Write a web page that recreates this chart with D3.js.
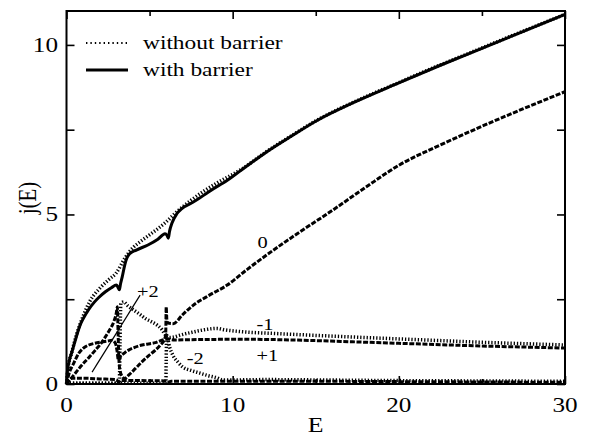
<!DOCTYPE html>
<html>
<head>
<meta charset="utf-8">
<script src="https://cdn.jsdelivr.net/npm/d3@7"></script>
<style>
  html, body { margin: 0; padding: 0; background: #fff; }
  svg { display: block; }
</style>
</head>
<body>
<svg id="chart" width="595" height="438"></svg>
<script>
// axis ticks
const xMajorTicks = [0, 10, 20, 30];
const xMinorTicks = [5, 15, 25];
const yMajorTicks = [0, 5, 10];
const yMinorTicks = [2.5, 7.5];

// total current, [E, j]
const totalWithBarrier = [[0,0],[0.05,0.35],[0.15,0.65],[0.33,0.95],[0.53,1.29],[0.83,1.75],[1.0,1.92],[1.34,2.2],[1.65,2.4],[1.94,2.55],[2.34,2.72],[2.7,2.84],[3.0,2.92],[3.1,2.85],[3.18,2.78],[3.25,2.95],[3.35,3.15],[3.5,3.5],[3.62,3.7],[3.8,3.84],[4.2,3.95],[4.9,4.1],[5.5,4.27],[5.93,4.43],[6.05,4.38],[6.13,4.3],[6.2,4.5],[6.35,4.75],[6.64,5.02],[6.94,5.17],[7.5,5.33],[7.94,5.46],[8.5,5.65],[9.15,5.85],[9.4,5.92],[10.55,6.32],[12,6.83],[13.5,7.3],[15,7.75],[17.5,8.35],[20,8.88],[22.5,9.4],[25,9.9],[27.5,10.4],[30,10.9]];
const totalWithoutBarrier = [[0,0],[0.1,0.5],[0.3,0.9],[0.6,1.45],[1.0,2.0],[1.42,2.45],[2.0,2.82],[2.5,3.06],[3.0,3.28],[3.5,3.7],[4.0,4.02],[4.5,4.22],[5.0,4.4],[5.93,4.75],[6.64,5.08],[7.5,5.42],[8.3,5.7],[9.13,5.95],[10.55,6.34],[12,6.84],[13.5,7.31],[15,7.76],[17.5,8.36],[20,8.89],[22.5,9.41],[25,9.91],[27.5,10.41],[30,10.9]];

// channel currents with barrier (dashed)
const ch0With = [[0,0],[0.17,0.1],[0.55,0.33],[0.93,0.56],[1.35,0.78],[1.74,1.0],[2.05,1.18],[2.34,1.39],[2.6,1.6],[2.84,1.83],[3.0,2.1],[3.06,2.28],[3.1,1.6],[3.14,0.9],[3.2,0.45],[3.35,0.22],[3.5,0.16],[3.74,0.26],[4.15,0.46],[4.55,0.66],[4.95,0.84],[5.35,1.0],[5.65,1.15],[5.88,1.3],[5.97,1.45],[6.0,2.27],[6.04,1.9],[6.1,1.8],[6.42,1.78],[7.0,2.05],[7.62,2.32],[8.6,2.62],[9.65,2.91],[10.8,3.35],[12,3.79],[14,4.47],[16,5.12],[18,5.8],[20,6.45],[22.5,7.05],[25,7.6],[27.5,8.12],[30,8.62]];
const ch1With = [[0,0],[0.15,0.3],[0.43,0.61],[0.73,0.9],[1.0,1.05],[1.34,1.15],[1.7,1.2],[2.14,1.24],[2.5,1.27],[2.74,1.29],[2.94,1.2],[3.05,0.95],[3.12,0.7],[3.24,0.8],[3.5,0.92],[3.74,1.0],[4.1,1.08],[4.55,1.15],[5.35,1.22],[5.85,1.31],[6.0,1.33],[6.5,1.3],[8,1.31],[10.4,1.32],[12.5,1.31],[15,1.28],[17.5,1.24],[20,1.2],[22.5,1.16],[25,1.12],[27.5,1.09],[30,1.06]];
const ch2With = [[0,0],[0.15,0.12],[0.35,0.17],[1.0,0.17],[2.0,0.15],[3.0,0.13],[3.12,0.06],[3.3,0.1],[4.5,0.1],[5.9,0.09],[6.05,0.05],[6.3,0.08],[10,0.08],[15,0.08],[20,0.07],[25,0.06],[30,0.05]];

// channel currents without barrier (dotted)
const chPlus2Without = [[0,0.02],[3.18,0.02],[3.22,1.2],[3.27,2.38],[3.44,2.42],[3.7,2.3],[4.05,2.18],[4.4,2.06],[4.75,1.93],[5.1,1.84],[5.45,1.74],[5.75,1.6],[5.95,1.45],[6.1,1.37],[6.4,1.38],[6.83,1.44],[7.5,1.52],[8.3,1.6],[9.05,1.64],[9.5,1.6],[10.6,1.54],[12.5,1.49],[14.7,1.44],[17.5,1.38],[20,1.33],[22.5,1.28],[25,1.23],[27.5,1.19],[30,1.15]];
const chMinus2Without = [[0,0.02],[5.98,0.02],[6.0,0.7],[6.03,1.44],[6.2,1.1],[6.4,0.85],[6.7,0.65],[7.0,0.5],[7.5,0.4],[8.04,0.32],[8.5,0.25],[9.06,0.18],[9.4,0.12],[10,0.12],[12,0.13],[15,0.12],[20,0.1],[25,0.09],[30,0.08]];

// leader line and curve labels
const leaderLine = [[1.54,0.35],[4.43,2.62]];
const curveLabels = [
  { text: "+2", E: 4.9, j: 2.74 },
  { text: "0", E: 11.8, j: 4.2 },
  { text: "-1", E: 11.95, j: 1.76 },
  { text: "+1", E: 12.08, j: 0.85 },
  { text: "-2", E: 7.74, j: 0.76 }
];
const legendLabels = ["without barrier", "with barrier"];

const FONT = "'Liberation Serif', 'Times New Roman', serif";
const STRETCH = 1.2;

const svg = d3.select("#chart");
const x = d3.scaleLinear().domain([0, 30]).range([66.5, 565]);
const y = d3.scaleLinear().domain([0, 11]).range([384, 11]);

const line = d3.line()
    .x(d => x(d[0]))
    .y(d => y(d[1]))
    .curve(d3.curveMonotoneX);

function addText(g, px, py, str, size, anchor, rotate) {
    const tr = rotate
        ? `translate(${px},${py}) rotate(-90) scale(1,${STRETCH})`
        : `translate(${px},${py}) scale(${STRETCH},1)`;
    return g.append("text")
        .attr("transform", tr)
        .attr("text-anchor", anchor)
        .attr("font-family", FONT)
        .attr("font-size", size)
        .attr("fill", "#000")
        .text(str);
}

const plot = svg.append("g");

const dotted = { width: 3.5, dash: "1.3,1.9" };
const dashed = { width: 3, dash: "5,1.6" };

const series = [
    { data: chMinus2Without, style: dotted },
    { data: chPlus2Without, style: dotted },
    { data: totalWithoutBarrier, style: dotted },
    { data: ch2With, style: dashed },
    { data: ch1With, style: dashed },
    { data: ch0With, style: dashed },
    { data: totalWithBarrier, style: { width: 3, dash: null } }
];

plot.selectAll("path.curve")
    .data(series)
    .join("path")
    .attr("class", "curve")
    .attr("d", d => line(d.data))
    .attr("fill", "none")
    .attr("stroke", "#000")
    .attr("stroke-width", d => d.style.width)
    .attr("stroke-dasharray", d => d.style.dash)
    .attr("stroke-linejoin", "round");

plot.append("path")
    .attr("d", d3.line().x(d => x(d[0])).y(d => y(d[1]))(leaderLine))
    .attr("fill", "none")
    .attr("stroke", "#000")
    .attr("stroke-width", 1.2);

curveLabels.forEach(l => {
    addText(plot, x(l.E), y(l.j) + 6, l.text, 17, "middle");
});

// frame and ticks
const axes = svg.append("g");
const [x0, x1] = x.range();
const [yb, yt] = y.range();

function ticks(axisFn, scale, values, size, transform) {
    axes.append("g")
        .attr("transform", transform)
        .call(axisFn(scale).tickValues(values).tickSize(size).tickFormat(""))
        .call(g => g.select(".domain").remove())
        .call(g => g.selectAll(".tick line").attr("stroke", "#000").attr("stroke-width", 1.6));
}

ticks(d3.axisBottom, x, xMajorTicks, -8, `translate(0,${yb})`);
ticks(d3.axisBottom, x, xMinorTicks, -5, `translate(0,${yb})`);
ticks(d3.axisTop, x, xMajorTicks, -8, `translate(0,${yt})`);
ticks(d3.axisTop, x, xMinorTicks, -5, `translate(0,${yt})`);
ticks(d3.axisLeft, y, yMajorTicks, -8, `translate(${x0},0)`);
ticks(d3.axisLeft, y, yMinorTicks, -8, `translate(${x0},0)`);
ticks(d3.axisRight, y, yMajorTicks, -8, `translate(${x1},0)`);
ticks(d3.axisRight, y, yMinorTicks, -8, `translate(${x1},0)`);

axes.append("rect")
    .attr("x", x0).attr("y", yt)
    .attr("width", x1 - x0).attr("height", yb - yt)
    .attr("fill", "none")
    .attr("stroke", "#000")
    .attr("stroke-width", 2);

xMajorTicks.forEach(v => addText(axes, x(v), 412, String(v), 21, "middle"));
yMajorTicks.forEach(v => addText(axes, 58, y(v) + 7, String(v), 21, "end"));

addText(axes, (x0 + x1) / 2, 432, "E", 21.5, "middle");
addText(axes, 36, 198, "j(E)", 21, "middle", true);

// legend
const legend = svg.append("g");
const legendStyles = [
    { width: 2.2, dash: "1.4,3" },
    { width: 3.2, dash: null }
];
legendLabels.forEach((t, i) => {
    const ly = 43 + i * 27;
    legend.append("line")
        .attr("x1", 86).attr("x2", 128)
        .attr("y1", ly).attr("y2", ly)
        .attr("stroke", "#000")
        .attr("stroke-width", legendStyles[i].width)
        .attr("stroke-dasharray", legendStyles[i].dash);
    addText(legend, 143, ly + 6, t, 19.5, "start");
});
</script>
</body>
</html>
